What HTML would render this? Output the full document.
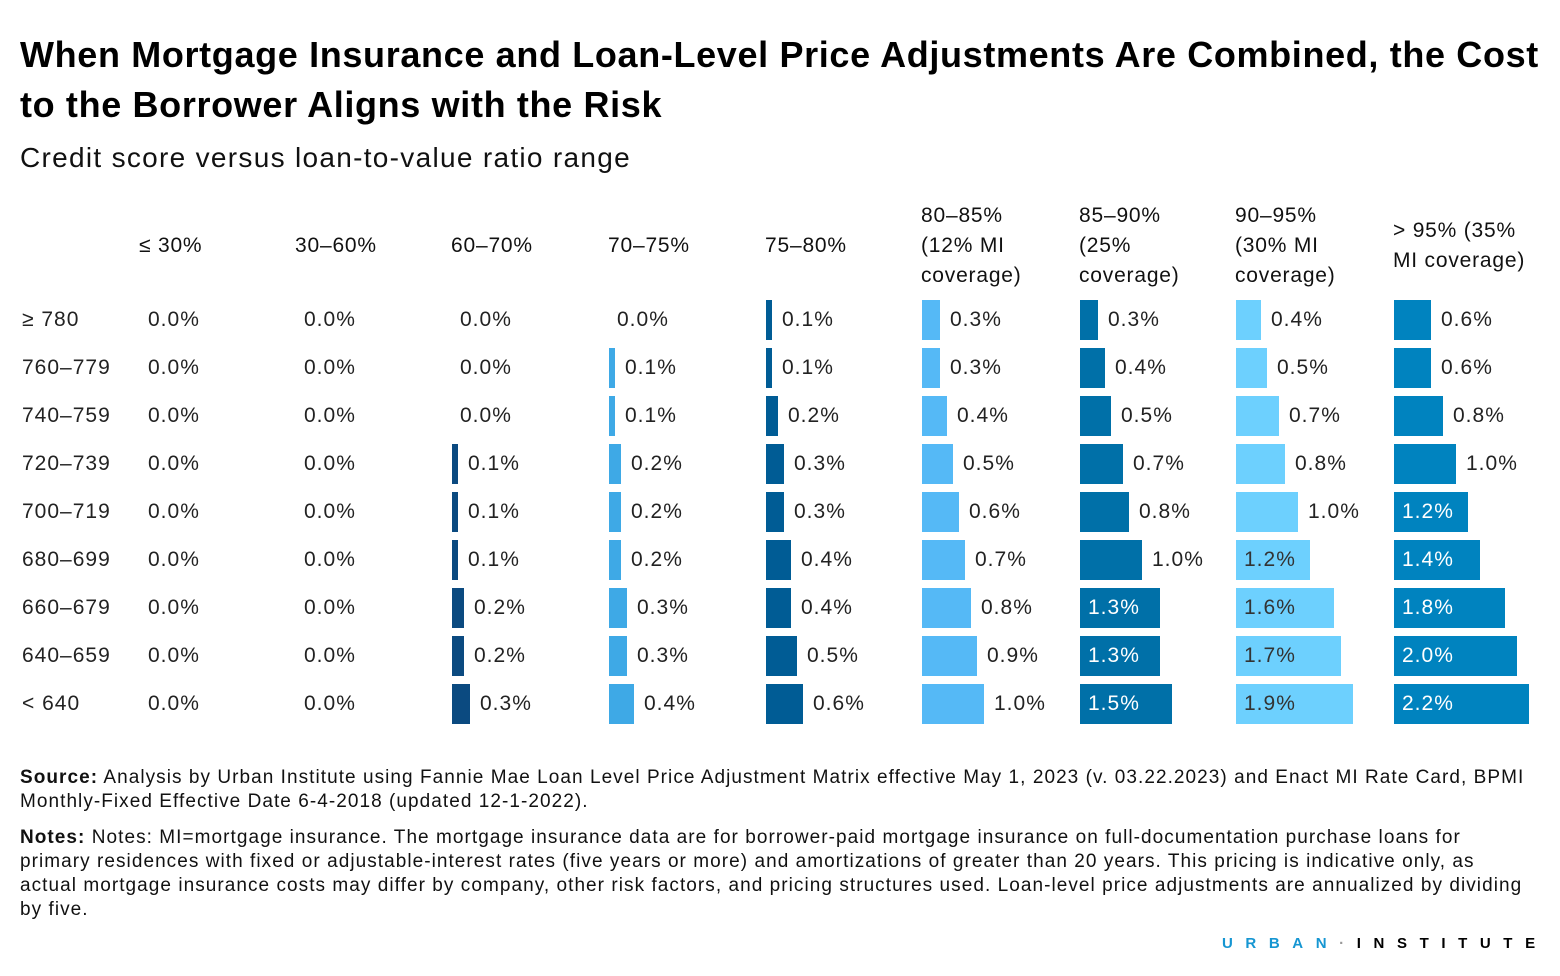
<!DOCTYPE html>
<html><head><meta charset="utf-8"><style>
body{margin:0;width:1560px;height:976px;background:#fff;font-family:"Liberation Sans",sans-serif;color:#000;position:relative;overflow:hidden}
.a{position:absolute;white-space:nowrap}
.t{left:20px;font-weight:bold;font-size:36px;letter-spacing:0.65px}
.h{font-size:21px;line-height:30px;color:#111;white-space:normal;letter-spacing:0.8px}
.v{font-size:21px;line-height:40px;color:#222;letter-spacing:1px}
.b{position:absolute;height:40px}
.f{left:20px;font-size:19px;line-height:24px;color:#111;letter-spacing:1.05px}
</style></head><body>
<div class="a t" style="top:34px">When Mortgage Insurance and Loan-Level Price Adjustments Are Combined, the Cost</div>
<div class="a t" style="top:84px">to the Borrower Aligns with the Risk</div>
<div class="a" style="left:20px;top:142px;font-size:28px;color:#111;letter-spacing:1.3px">Credit score versus loan-to-value ratio range</div>
<div id="g"></div>
<div class="a f" style="top:766px"><b>Source:</b> Analysis by Urban Institute using Fannie Mae Loan Level Price Adjustment Matrix effective May 1, 2023 (v. 03.22.2023) and Enact MI Rate Card, BPMI<br>Monthly-Fixed Effective Date 6-4-2018 (updated 12-1-2022).</div>
<div class="a f" style="top:826px"><b>Notes:</b> Notes: MI=mortgage insurance. The mortgage insurance data are for borrower-paid mortgage insurance on full-documentation purchase loans for<br>primary residences with fixed or adjustable-interest rates (five years or more) and amortizations of greater than 20 years. This pricing is indicative only, as<br>actual mortgage insurance costs may differ by company, other risk factors, and pricing structures used. Loan-level price adjustments are annualized by dividing<br>by five.</div>
<div class="a" style="left:1222px;top:935px;font-size:15px;font-weight:bold;letter-spacing:12.6px"><span style="color:#1696d2">URBAN</span><span style="color:#999">·</span>INSTITUTE</div>
<script>
var cols=[140,296,452,609,766,922,1080,1236,1394];
var hdr=["≤ 30%","30–60%","60–70%","70–75%","75–80%","80–85%<br>(12% MI<br>coverage)","85–90%<br>(25%<br>coverage)","90–95%<br>(30% MI<br>coverage)","&gt; 95% (35%<br>MI coverage)"];
var colr=[null,null,"#0b4a80","#3ea9e6","#005c95","#55b9f6","#0070a8","#6dd0fe","#0083bf"];
var rows=["≥ 780","760–779","740–759","720–739","700–719","680–699","660–679","640–659","< 640"];
var d=[[0,0,0,0,.1,.3,.3,.4,.6],[0,0,0,.1,.1,.3,.4,.5,.6],[0,0,0,.1,.2,.4,.5,.7,.8],[0,0,.1,.2,.3,.5,.7,.8,1.0],[0,0,.1,.2,.3,.6,.8,1.0,1.2],[0,0,.1,.2,.4,.7,1.0,1.2,1.4],[0,0,.2,.3,.4,.8,1.3,1.6,1.8],[0,0,.2,.3,.5,.9,1.3,1.7,2.0],[0,0,.3,.4,.6,1.0,1.5,1.9,2.2]];
var h="";
var lines=[1,1,1,1,1,3,3,3,2];
for(var c=0;c<9;c++){var bot=cols[c]==1394?276:(lines[c]==1?261:291);h+='<div class="a h" style="left:'+(cols[c]-1)+'px;top:'+(bot-30*lines[c])+'px">'+hdr[c]+'</div>';}
for(var r=0;r<9;r++){var y=300+48*r;
h+='<div class="a v" style="left:22px;top:'+y+'px">'+rows[r]+'</div>';
for(var c=0;c<9;c++){var v=d[r][c],x=cols[c],w=Math.round(v*61.5);
if(v==0){h+='<div class="a v" style="left:'+(x+8)+'px;top:'+y+'px">0.0%</div>';continue;}
h+='<div class="b" style="left:'+x+'px;top:'+y+'px;width:'+w+'px;background:'+colr[c]+'"></div>';
var inside=(c==6&&v>=1.3)||(c>=7&&v>=1.2);
var txt=v.toFixed(1)+'%';
if(inside)h+='<div class="a v" style="left:'+(x+8)+'px;top:'+y+'px;color:'+(c==7?'#333':'#fff')+'">'+txt+'</div>';
else h+='<div class="a v" style="left:'+(x+w+10)+'px;top:'+y+'px">'+txt+'</div>';}}
document.getElementById('g').innerHTML=h;
</script>
</body></html>
